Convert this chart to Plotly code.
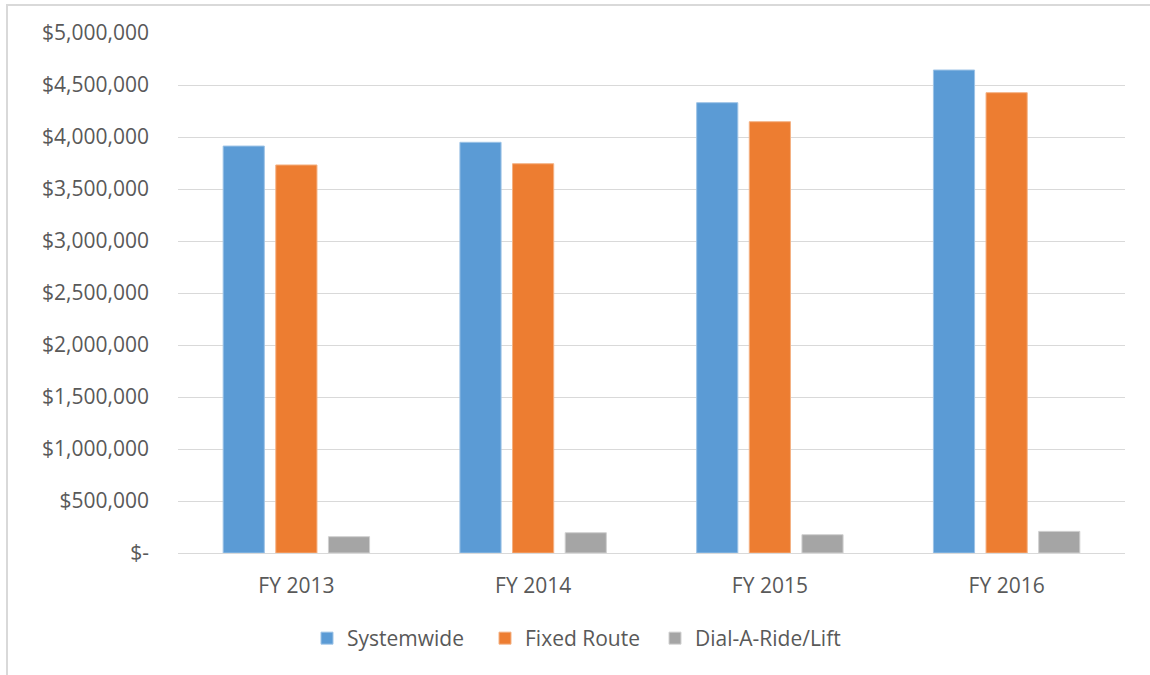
import plotly.graph_objects as go

categories = ["FY 2013", "FY 2014", "FY 2015", "FY 2016"]
systemwide = [3913000, 3949000, 4330000, 4644000]
fixed_route = [3731000, 3743000, 4147000, 4426000]
dial_a_ride = [157000, 195000, 176000, 208000]

tick_vals = [0, 500000, 1000000, 1500000, 2000000, 2500000, 3000000, 3500000, 4000000, 4500000, 5000000]
tick_text = ["$-", "$500,000", "$1,000,000", "$1,500,000", "$2,000,000", "$2,500,000",
             "$3,000,000", "$3,500,000", "$4,000,000", "$4,500,000", "$5,000,000"]

series = [
    ("Systemwide", systemwide, "#5b9bd5", "#9dc3e6", "legend", 320),
    ("Fixed Route", fixed_route, "#ed7d31", "#f4b183", "legend2", 498),
    ("Dial-A-Ride/Lift", dial_a_ride, "#a5a5a5", "#d0d0d0", "legend3", 668),
]

PLOT_L, PLOT_W = 178, 947

fig = go.Figure()
for name, vals, color, edge, leg, _ in series:
    fig.add_trace(go.Bar(
        name=name, x=categories, y=vals, legend=leg,
        marker=dict(color=color, line=dict(color=edge, width=1)),
    ))

font_family = "Open Sans, Noto Sans, sans-serif"
legend_layout = {}
for name, vals, color, edge, leg, px in series:
    legend_layout[leg] = dict(
        orientation="h", x=(px - 13 - PLOT_L) / PLOT_W, xanchor="left",
        y=-0.125, yanchor="top", font=dict(size=21, color="#595959"),
        itemwidth=30, bgcolor="rgba(0,0,0,0)")

fig.update_layout(
    width=1150, height=675,
    margin=dict(l=178, r=25, t=33, b=122),
    paper_bgcolor="white", plot_bgcolor="white",
    barmode="group", bargap=0.333, bargroupgap=0.218,
    font=dict(family=font_family, color="#595959", size=21),
    showlegend=True,
    xaxis=dict(showgrid=False, showline=True, linecolor="#d9d9d9", linewidth=1,
               ticks="", ticklabelstandoff=14, tickfont=dict(size=21, color="#595959")),
    yaxis=dict(range=[0, 5000000], tickvals=tick_vals, ticktext=tick_text,
               showgrid=True, gridcolor="#d9d9d9", gridwidth=1, zeroline=False,
               ticks="", ticklabelstandoff=28, tickfont=dict(size=21, color="#595959")),
    shapes=[dict(type="rect", xref="paper", yref="paper",
                 x0=(7 - 178) / 947, x1=(1160 - 178) / 947,
                 y0=(553 - 680) / 520, y1=(553 - 5) / 520,
                 line=dict(color="#d9d9d9", width=2), fillcolor="rgba(0,0,0,0)", layer="below")],
    **legend_layout,
)

fig.write_html("out.html", config={"displayModeBar": False},
               post_script="document.body.style.margin='0';document.body.style.overflow='hidden';")
